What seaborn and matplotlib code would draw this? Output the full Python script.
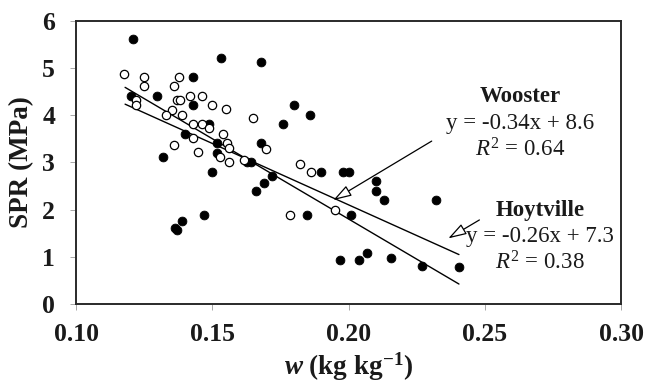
import matplotlib
matplotlib.use("Agg")
import matplotlib.pyplot as plt
import numpy as np
import pandas as pd
import seaborn as sns

# ---- data ----
solid_w = [0.1208, 0.1531, 0.1679, 0.1430, 0.1298, 0.1201, 0.1430, 0.1489, 0.1400,
           0.1519, 0.1679, 0.1516, 0.1626, 0.1641, 0.1320, 0.1500, 0.1660, 0.1470,
           0.1388, 0.1363, 0.1372, 0.1800, 0.1859, 0.1758, 0.1900, 0.1980, 0.2000,
           0.1720, 0.1690, 0.2101, 0.2101, 0.2130, 0.1849, 0.2010, 0.1969, 0.2039,
           0.2067, 0.2157, 0.2321, 0.2270, 0.2405]
solid_spr = [5.61, 5.21, 5.12, 4.81, 4.41, 4.41, 4.21, 3.81, 3.60,
             3.41, 3.40, 3.20, 3.01, 3.01, 3.12, 2.80, 2.40, 1.88,
             1.76, 1.62, 1.57, 4.21, 4.01, 3.81, 2.80, 2.80, 2.80,
             2.71, 2.57, 2.60, 2.40, 2.20, 1.89, 1.89, 0.93, 0.93,
             1.09, 0.98, 2.20, 0.80, 0.79]

hollow_w = [0.1177, 0.1248, 0.1248, 0.1379, 0.1360, 0.1372, 0.1382, 0.1418, 0.1461,
            0.1500, 0.1550, 0.1650, 0.1219, 0.1219, 0.1351, 0.1330, 0.1390, 0.1430,
            0.1461, 0.1489, 0.1540, 0.1430, 0.1553, 0.1560, 0.1360, 0.1449, 0.1528,
            0.1560, 0.1617, 0.1697, 0.1820, 0.1862, 0.1785, 0.1950]
hollow_spr = [4.88, 4.81, 4.62, 4.81, 4.62, 4.32, 4.32, 4.41, 4.41,
              4.21, 4.13, 3.94, 4.32, 4.21, 4.11, 4.00, 4.00, 3.81,
              3.81, 3.72, 3.61, 3.51, 3.41, 3.31, 3.37, 3.21, 3.12,
              3.01, 3.05, 3.29, 2.96, 2.80, 1.89, 2.00]

# regression equations as printed (x in % water content)
sites = ["Wooster", "Hoytville"]
slopes = [-0.34, -0.26]
intercepts = [8.6, 7.3]
r2 = [0.64, 0.38]
fit_range = [0.118, 0.2405]

x_ticks = [0.10, 0.15, 0.20, 0.25, 0.30]
x_tick_labels = ["0.10", "0.15", "0.20", "0.25", "0.30"]
y_ticks = [0, 1, 2, 3, 4, 5, 6]

# ---- style ----
sns.set_theme(style="white")
plt.rcParams["font.family"] = ["Liberation Serif", "DejaVu Serif"]
plt.rcParams["mathtext.fontset"] = "custom"
plt.rcParams["mathtext.rm"] = "Liberation Serif"
plt.rcParams["mathtext.it"] = "Liberation Serif:italic"
plt.rcParams["mathtext.bf"] = "Liberation Serif:bold"
has_bfit = "mathtext.bfit" in plt.rcParams
if has_bfit:
    plt.rcParams["mathtext.bfit"] = "Liberation Serif:bold:italic"

fig = plt.figure(figsize=(6.47, 3.90), dpi=100)
ax = fig.add_axes([0.1175, 0.2205, 0.8425, 0.7265])

# regression lines
for s, b in zip(slopes, intercepts):
    fx = np.array(fit_range)
    fy = b + s * fx * 100
    sns.lineplot(x=fx, y=fy, ax=ax, color="black", linewidth=1.0, zorder=2)

df_solid = pd.DataFrame({"w": solid_w, "spr": solid_spr})
df_hollow = pd.DataFrame({"w": hollow_w, "spr": hollow_spr})
sns.scatterplot(data=df_solid, x="w", y="spr", ax=ax, color="black",
                edgecolor="black", s=40, linewidth=0.6, zorder=3)
sns.scatterplot(data=df_hollow, x="w", y="spr", ax=ax, color="white",
                edgecolor="black", s=36, linewidth=0.9, zorder=3)

ax.set_xlim(0.10, 0.30)
ax.set_ylim(0, 6)
ax.set_xticks(x_ticks)
ax.set_xticklabels(x_tick_labels)
ax.set_yticks(y_ticks)

for sp in ax.spines.values():
    sp.set_color("#2a2a2a")
    sp.set_linewidth(1.4)

ax.tick_params(axis="both", direction="out", length=4, width=0.6, color="#999999",
               labelsize=18.5, labelcolor="#1a1a1a")
ax.tick_params(axis="x", pad=10)
ax.tick_params(axis="y", pad=11)
ax.tick_params(bottom=True, left=True)
for lab in ax.get_xticklabels() + ax.get_yticklabels():
    lab.set_fontweight("bold")

if has_bfit:
    xl = r"$\mathbfit{w}$ (kg kg$^{\mathbf{-1}}$)"
else:
    xl = r"$\mathit{w}$ (kg kg$^{\mathbf{-1}}$)"
ax.set_xlabel(xl, fontsize=19.5, fontweight="bold", color="#1a1a1a")
ax.xaxis.set_label_coords(0.5, -0.165)
ax.xaxis.label.set_va("top")
ax.set_ylabel("SPR (MPa)", fontsize=19.5, fontweight="bold", color="#1a1a1a")
ax.yaxis.set_label_coords(-0.077, 0.5)

# annotations
txt_pos = [(0.2629, 4.39), (0.2702, 1.99)]
arrow_tail = [(0.2305, 3.45), (0.2480, 1.78)]
arrow_head = [(0.1944, 2.20), (0.2366, 1.39)]
for i in range(2):
    tx, ty = txt_pos[i]
    ax.text(tx, ty, sites[i], ha="center", va="center", fontsize=16.5,
            fontweight="bold", color="#1a1a1a")
    ax.text(tx, ty - 0.56, f"y = {slopes[i]:.2f}x + {intercepts[i]:.1f}",
            ha="center", va="center", fontsize=16.5, color="#1a1a1a")
    ax.text(tx, ty - 1.12, rf"$R^2$ = {r2[i]:.2f}", ha="center", va="center",
            fontsize=16.5, color="#1a1a1a")
    ax.annotate("", xy=arrow_head[i], xytext=arrow_tail[i],
                arrowprops=dict(arrowstyle="-|>,head_length=0.7,head_width=0.22",
                                color="black", fc="white", lw=0.9,
                                mutation_scale=16, shrinkA=0, shrinkB=0))

fig.savefig("out.png", dpi=100)
